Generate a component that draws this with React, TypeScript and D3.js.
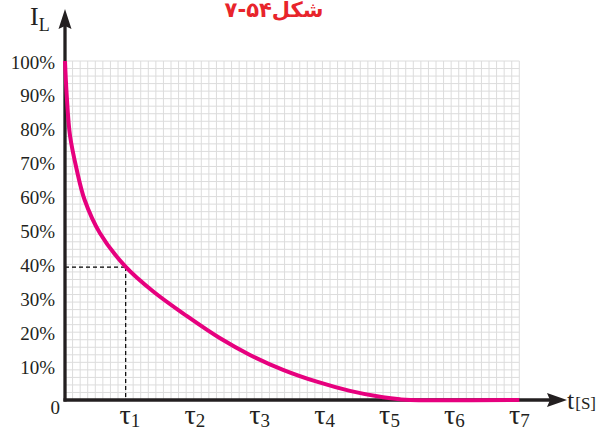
import React from "react";
import * as d3 from "d3";

// ---- data ----
const tauTicks = [1, 2, 3, 4, 5, 6, 7];
const tauSubs = ["1", "2", "3", "4", "5", "6", "7"];
const yTicks = [0, 10, 20, 30, 40, 50, 60, 70, 80, 90, 100];
const yTickLabels = ["0", "10%", "20%", "30%", "40%", "50%", "60%", "70%", "80%", "90%", "100%"];
// curve: time in units of tau, current in %
const curveT = [0, 0.026, 0.077, 0.18, 0.303, 0.539, 0.925, 1.36, 1.875, 2.39, 2.85, 3.36, 3.88, 4.39, 4.9, 5.16, 5.32, 7];
const curveI = [100, 90, 78, 68, 59, 49.2, 39.5, 32.0, 24.8, 18.2, 13.3, 8.9, 5.4, 2.7, 0.8, 0.2, 0, 0];
const markT = 0.935;
const markI = 39.2;
const gridCols = 60;
const gridRows = 45;
const titleText = "شکل۵۴-۷";

const W = 604;
const H = 430;
const X0 = 65;
const X1 = 519.3;
const Y0 = 400;
const Y1 = 61;

export default function App() {
  const x = d3.scaleLinear().domain([0, 7]).range([X0, X1]);
  const y = d3.scaleLinear().domain([0, 100]).range([Y0, Y1]);
  const gx = d3.scaleLinear().domain([0, gridCols]).range([X0, X1]);
  const gy = d3.scaleLinear().domain([0, gridRows]).range([Y0, Y1]);

  const pts: [number, number][] = curveT.map((t, i) => [t, curveI[i]]);
  const line = d3
    .line<[number, number]>()
    .x((d) => x(d[0]))
    .y((d) => y(d[1]))
    .curve(d3.curveCatmullRom.alpha(0.5));

  const axisColor = "#231f20";
  const magenta = "#e6007e";
  const serif = "'Liberation Serif', 'Times New Roman', serif";

  return (
    <svg
      width={W}
      height={H}
      viewBox={`0 0 ${W} ${H}`}
      style={{ position: "absolute", left: 0, top: 0, background: "#fff" }}
    >
      {/* grid */}
      <g stroke="#dcdcdc" strokeWidth={1}>
        {d3.range(0, gridCols + 1).map((i) => (
          <line key={"v" + i} x1={gx(i)} x2={gx(i)} y1={Y0} y2={Y1} />
        ))}
        {d3.range(0, gridRows + 1).map((i) => (
          <line key={"h" + i} x1={X0} x2={X1} y1={gy(i)} y2={gy(i)} />
        ))}
      </g>

      {/* dashed marker */}
      <g stroke="#000" strokeWidth={1.2} strokeDasharray="4,3" fill="none">
        <line x1={x(0)} x2={x(markT)} y1={y(markI)} y2={y(markI)} />
        <line x1={x(markT)} x2={x(markT)} y1={y(markI)} y2={y(0)} />
      </g>

      {/* axes */}
      <line x1={X0} x2={X0} y1={Y0 + 1.5} y2={26} stroke={axisColor} strokeWidth={3.3} />
      <path d={`M${X0},9 L${X0 + 6.5},29 L${X0},26 L${X0 - 6.5},29 Z`} fill={axisColor} />
      <line x1={X0 - 1.5} x2={550} y1={Y0} y2={Y0} stroke={axisColor} strokeWidth={3.3} />
      <path d={`M567,${Y0} L547,${Y0 - 7} L550,${Y0} L547,${Y0 + 7} Z`} fill={axisColor} />

      {/* curve */}
      <path d={line(pts) || ""} fill="none" stroke={magenta} strokeWidth={4} strokeLinejoin="round" />

      {/* y tick labels */}
      <g fontFamily={serif} fontSize={19} fill={axisColor}>
        {yTicks.map((v, i) =>
          v === 0 ? (
            <text key={v} x={X0 - 5} y={y(v) + 7.5} textAnchor="end" dominantBaseline="central">
              {yTickLabels[i]}
            </text>
          ) : (
            <text key={v} x={X0 - 10} y={y(v) + 1} textAnchor="end" dominantBaseline="central">
              {yTickLabels[i]}
            </text>
          )
        )}
      </g>

      {/* x tick labels */}
      <g fontFamily={serif} fill={axisColor}>
        {tauTicks.map((t, i) => (
          <text key={t} x={x(t)} y={424} textAnchor="middle">
            <tspan fontSize={28}>τ</tspan>
            <tspan fontSize={19} dy={3}>{tauSubs[i]}</tspan>
          </text>
        ))}
      </g>

      {/* axis titles */}
      <text x={30} y={25} fontFamily={serif} fill={axisColor}>
        <tspan fontSize={26}>I</tspan>
        <tspan fontSize={18} dy={6}>L</tspan>
      </text>
      <text x={567} y={409} fontFamily={serif} fill={axisColor}>
        <tspan fontSize={26}>t</tspan>
        <tspan fontSize={17} dx={1}>[S]</tspan>
      </text>

      {/* title */}
      <text
        x={274}
        y={17}
        textAnchor="middle"
        fontFamily="'DejaVu Sans', 'Noto Sans', sans-serif"
        fontWeight="bold"
        fontSize={21}
        fill="#e8242b"
      >
        {titleText}
      </text>
    </svg>
  );
}
